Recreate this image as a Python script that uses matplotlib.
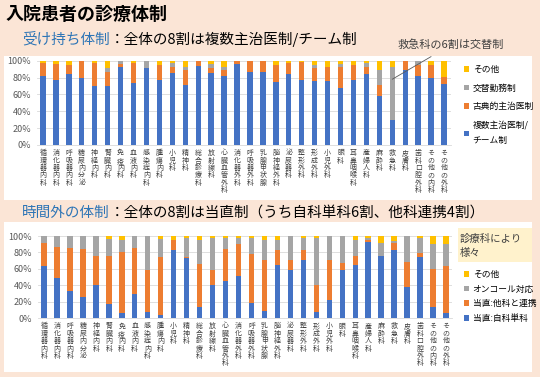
import matplotlib
matplotlib.use('Agg')
import matplotlib.pyplot as plt
from matplotlib.patches import Rectangle
import numpy as np

plt.rcParams['font.family'] = ['Noto Sans CJK JP', 'DejaVu Sans']

depts = ['循環器内科', '消化器内科', '呼吸器内科', '糖尿内分泌', '神経内科', '腎臓内科',
         '免疫内科', '血液内科', '感染症内科', '腫瘍内科', '小児科', '精神科',
         '総合診療科', '放射線科', '心臓血管外科', '消化器外科', '呼吸器外科', '乳腺甲状腺',
         '脳神経外科', '泌尿器科', '整形外科', '形成外科', '小児外科', '眼科',
         '耳鼻咽喉科', '産婦人科', '麻酔科', '救急科', '皮膚科', '歯科口腔外科',
         'その他の内科', 'その他の外科']

# 受け持ち体制 (%)
multi   = [82, 77, 84, 79, 70, 70, 92, 73, 91, 77, 85, 71, 94, 85, 82, 96,
           87, 86, 75, 84, 77, 76, 76, 68, 77, 84, 58, 30, 89, 82, 80, 72]
classic = [15, 19, 11, 21, 27, 17, 4, 24, 0, 18, 8, 18, 6, 6, 7, 4,
           13, 14, 20, 13, 21, 15, 16, 25, 18, 9, 13, 0, 11, 13, 15, 9]
shift   = [0, 0, 0, 0, 0, 4, 4, 0, 9, 0, 4, 3, 0, 5, 3, 0,
           0, 0, 0, 0, 0, 4, 1, 3, 0, 4, 18, 62, 0, 5, 0, 0]
other1  = [3, 4, 5, 0, 3, 9, 0, 3, 0, 5, 3, 8, 0, 4, 8, 0,
           0, 0, 5, 3, 2, 5, 7, 4, 5, 3, 11, 8, 0, 0, 5, 19]

# 時間外の体制 (%)
duty_self  = [63, 49, 33, 26, 40, 17, 7, 30, 8, 4, 83, 73, 14, 40, 45, 51,
              19, 9, 65, 59, 71, 8, 22, 59, 65, 93, 76, 83, 38, 74, 14, 7]
duty_cross = [28, 38, 52, 58, 36, 59, 74, 56, 51, 70, 12, 1, 52, 19, 39, 39,
              59, 62, 18, 12, 12, 33, 49, 8, 11, 2, 0, 8, 31, 5, 46, 57]
oncall     = [9, 13, 15, 16, 24, 20, 14, 14, 41, 22, 0, 23, 29, 38, 13, 7,
              19, 24, 12, 29, 14, 56, 29, 33, 19, 3, 15, 3, 31, 19, 30, 26]
other2     = [0, 0, 0, 0, 0, 4, 5, 0, 0, 4, 5, 3, 5, 3, 3, 3,
              3, 5, 5, 0, 3, 3, 0, 0, 5, 2, 9, 6, 0, 2, 10, 10]

labels1 = ['複数主治医制/\nチーム制', '古典的主治医制', '交替勤務制', 'その他']
labels2 = ['当直:自科単科', '当直:他科と連携', 'オンコール対応', 'その他']
colors = ['#4472C4', '#ED7D31', '#A5A5A5', '#FFC000']
bg = '#FBE5D6'
title_blue = '#2E75B6'

W, H = 540, 377
fig = plt.figure(figsize=(5.4, 3.77), dpi=100, facecolor=bg)

def px(x, y):
    return x / W, 1 - y / H

# white panels
for (x0, y0, x1, y1) in [(4, 56, 532, 200), (4, 222, 532, 372)]:
    fig.patches.append(Rectangle((x0 / W, 1 - y1 / H), (x1 - x0) / W, (y1 - y0) / H,
                                 transform=fig.transFigure, facecolor='white',
                                 edgecolor='none', zorder=-5))

def draw(ax, series, legend_labels):
    x = np.arange(len(depts))
    bottom = np.zeros(len(depts))
    bars = []
    for vals, c, lab in zip(series, colors, legend_labels):
        vals = np.array(vals) / 100
        b = ax.bar(x, vals, 0.42, bottom=bottom, color=c, label=lab, zorder=3)
        bars.append(b)
        bottom += vals
    ax.set_xlim(-0.5, len(depts) - 0.5)
    ax.set_ylim(0, 1)
    ax.set_yticks(np.arange(0, 1.01, 0.2))
    ax.set_yticklabels([f'{int(round(v * 100))}%' for v in np.arange(0, 1.01, 0.2)])
    ax.set_xticks(x)
    ax.set_xticklabels(['\n'.join(d) for d in depts], fontsize=5.0,
                       linespacing=0.9, va='top', color='#404040')
    ax.tick_params(axis='both', length=0)
    ax.tick_params(axis='y', labelsize=6.5, labelcolor='#595959', pad=4)
    ax.tick_params(axis='x', pad=3)
    ax.grid(axis='y', color='#D9D9D9', linewidth=0.6, zorder=0)
    ax.set_facecolor('none')
    ax.set_zorder(5)
    for s in ['top', 'right', 'left']:
        ax.spines[s].set_visible(False)
    ax.spines['bottom'].set_color('#D9D9D9')
    ax.spines['bottom'].set_linewidth(0.6)
    return bars

ax1 = fig.add_axes([36.5 / W, 0.6154, 414 / W, 0.2237])
bars1 = draw(ax1, [multi, classic, shift, other1], labels1)
ax2 = fig.add_axes([37.5 / W, 0.1557, 415 / W, 0.2183])
bars2 = draw(ax2, [duty_self, duty_cross, oncall, other2], labels2)

# titles
fig.text(*px(6, 15), '入院患者の診療体制', fontsize=13, fontweight='bold',
         va='center', ha='left')
t1 = fig.text(*px(22, 39), '受け持ち体制', fontsize=10.5, color=title_blue,
              va='center', ha='left')
ax1.annotate('：全体の8割は複数主治医制/チーム制', xy=(1, 0.5), xycoords=t1,
             fontsize=10.5, va='center', ha='left', annotation_clip=False)
t2 = fig.text(*px(22, 213), '時間外の体制', fontsize=10.5, color=title_blue,
              va='center', ha='left')
ax2.annotate('：全体の8割は当直制（うち自科単科6割、他科連携4割）', xy=(1, 0.5),
             xycoords=t2, fontsize=10.5, va='center', ha='left', annotation_clip=False)

# annotation for 救急科
ax1.annotate('救急科の6割は交替制', xy=(27, 0.78), xycoords='data',
             xytext=px(451, 45), textcoords='figure fraction',
             fontsize=8, ha='center', va='center', color='#404040',
             arrowprops=dict(arrowstyle='-', color='#595959', lw=0.6,
                             shrinkA=5, shrinkB=0))

# legends
leg1 = fig.legend(bars1[::-1], labels1[::-1], loc='upper left',
                  bbox_to_anchor=px(456, 57), frameon=False, fontsize=6.3,
                  handlelength=0.6, handleheight=0.6, handletextpad=0.4,
                  labelspacing=1.1)
for t in leg1.get_texts():
    t.set_linespacing(1.9)

fig.patches.append(Rectangle((458 / W, 1 - 262 / H), 74 / W, 34 / H,
                             transform=fig.transFigure, facecolor='#FFF2CC',
                             edgecolor='none', zorder=1))
fig.text(*px(460, 246), '診療科により\n様々', fontsize=7.5, va='center', ha='left',
         linespacing=1.5, color='#404040')
fig.legend(bars2[::-1], labels2[::-1], loc='upper left',
           bbox_to_anchor=px(456, 262), frameon=False, fontsize=6.3,
           handlelength=0.6, handleheight=0.6, handletextpad=0.4,
           labelspacing=0.65)

fig.savefig('out.png', dpi=100, facecolor=bg)
